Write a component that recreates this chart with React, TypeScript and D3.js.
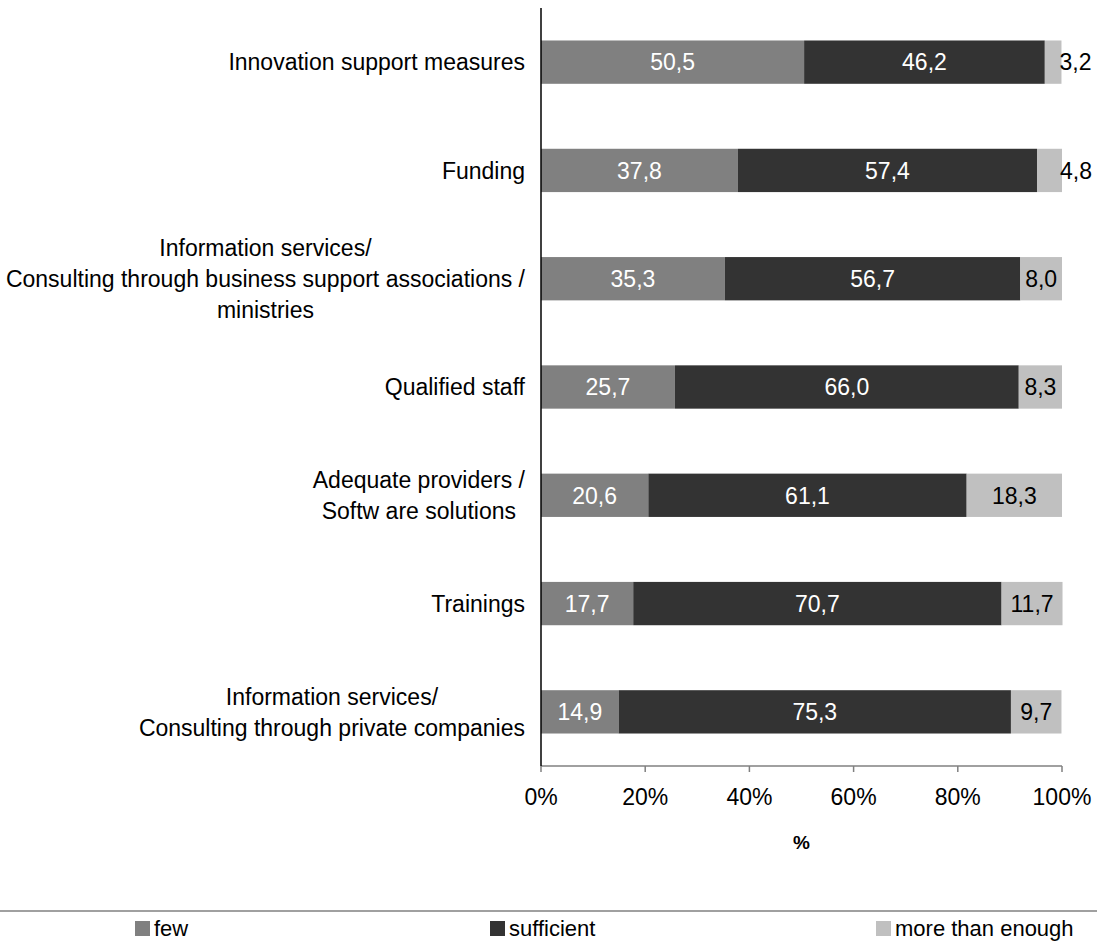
import React, { useEffect, useRef } from "react";
import * as d3 from "d3";

const categories: string[][] = [
  ["Innovation support measures"],
  ["Funding"],
  ["Information services/", "Consulting through business support associations /", "ministries"],
  ["Qualified staff"],
  ["Adequate providers /", "Softw are solutions"],
  ["Trainings"],
  ["Information services/", "Consulting through private companies"],
];
const few = [50.5, 37.8, 35.3, 25.7, 20.6, 17.7, 14.9];
const sufficient = [46.2, 57.4, 56.7, 66.0, 61.1, 70.7, 75.3];
const moreThanEnough = [3.2, 4.8, 8.0, 8.3, 18.3, 11.7, 9.7];
const seriesNames = ["few", "sufficient", "more than enough"];
const seriesColors = ["#808080", "#333333", "#c0c0c0"];
const labelColors = ["#ffffff", "#ffffff", "#000000"];
const xTicks = [0, 20, 40, 60, 80, 100];

export default function App() {
  const ref = useRef<SVGSVGElement>(null);

  useEffect(() => {
    const svg = d3.select(ref.current);
    svg.selectAll("*").remove();
    const font = "'Liberation Sans', Arial, sans-serif";
    const fs = 23;

    const x = d3.scaleLinear().domain([0, 100]).range([541, 1062]);
    const idx = categories.map((_, i) => String(i));
    const y = d3.scaleBand().domain(idx).range([8, 766]).paddingInner(0.6).paddingOuter(0.3);

    const series = [few, sufficient, moreThanEnough];
    const fmt = (v: number) => d3.format(".1f")(v).replace(".", ",");

    const g = svg.append("g").attr("font-family", font).attr("font-size", fs);

    // bars
    categories.forEach((_, i) => {
      let acc = 0;
      series.forEach((s, k) => {
        const v = s[i];
        const x0 = x(acc);
        const x1 = x(acc + v);
        acc += v;
        const yy = y(String(i))!;
        const bh = y.bandwidth();
        g.append("rect")
          .attr("x", x0)
          .attr("y", yy)
          .attr("width", x1 - x0)
          .attr("height", bh)
          .attr("fill", seriesColors[k]);
        const t = g
          .append("text")
          .text(fmt(v))
          .attr("fill", labelColors[k])
          .attr("y", yy + bh / 2 + fs * 0.36);
        const tw = (t.node() as SVGTextElement).getComputedTextLength();
        if (x1 - x0 < tw + 4) {
          t.attr("x", x1 - 2).attr("text-anchor", "start");
        } else {
          t.attr("x", (x0 + x1) / 2).attr("text-anchor", "middle");
        }
      });
    });

    // category labels
    const lineH = 31;
    categories.forEach((lines, i) => {
      const cy = y(String(i))! + y.bandwidth() / 2;
      const grp = g.append("g");
      const texts = lines.map((ln, j) =>
        grp
          .append("text")
          .text(ln)
          .attr("fill", "#000")
          .attr("text-anchor", "middle")
          .attr("y", cy + (j - (lines.length - 1) / 2) * lineH + fs * 0.36)
      );
      const maxW = d3.max(texts, (t) => (t.node() as SVGTextElement).getComputedTextLength()) || 0;
      texts.forEach((t) => t.attr("x", 525 - maxW / 2));
    });

    // x axis
    g.append("line")
      .attr("x1", x(0))
      .attr("x2", x(100))
      .attr("y1", 766)
      .attr("y2", 766)
      .attr("stroke", "#808080")
      .attr("stroke-width", 1.5);
    xTicks.forEach((t) => {
      g.append("line")
        .attr("x1", x(t))
        .attr("x2", x(t))
        .attr("y1", 766)
        .attr("y2", 772)
        .attr("stroke", "#808080")
        .attr("stroke-width", 1.5);
      g.append("text")
        .text(t + "%")
        .attr("x", x(t))
        .attr("y", 805)
        .attr("text-anchor", "middle")
        .attr("fill", "#000");
    });
    g.append("text")
      .text("%")
      .attr("x", (x(0) + x(100)) / 2)
      .attr("y", 849)
      .attr("text-anchor", "middle")
      .attr("font-weight", "bold")
      .attr("font-size", 19)
      .attr("fill", "#000");

    // y axis line
    g.append("line")
      .attr("x1", x(0))
      .attr("x2", x(0))
      .attr("y1", 8)
      .attr("y2", 766)
      .attr("stroke", "#000")
      .attr("stroke-width", 1.5);

    // legend
    g.append("line")
      .attr("x1", 0)
      .attr("x2", 1097)
      .attr("y1", 911)
      .attr("y2", 911)
      .attr("stroke", "#808080")
      .attr("stroke-width", 1.5);
    const legX = [135, 490, 876];
    seriesNames.forEach((n, k) => {
      g.append("rect")
        .attr("x", legX[k])
        .attr("y", 921)
        .attr("width", 15)
        .attr("height", 15)
        .attr("fill", seriesColors[k]);
      g.append("text")
        .text(n)
        .attr("x", legX[k] + 19)
        .attr("y", 936)
        .attr("font-size", 22)
        .attr("fill", "#000");
    });
  }, []);

  return (
    <svg
      ref={ref}
      width={1097}
      height={945}
      style={{ position: "absolute", left: 0, top: 0, background: "#fff" }}
    />
  );
}
